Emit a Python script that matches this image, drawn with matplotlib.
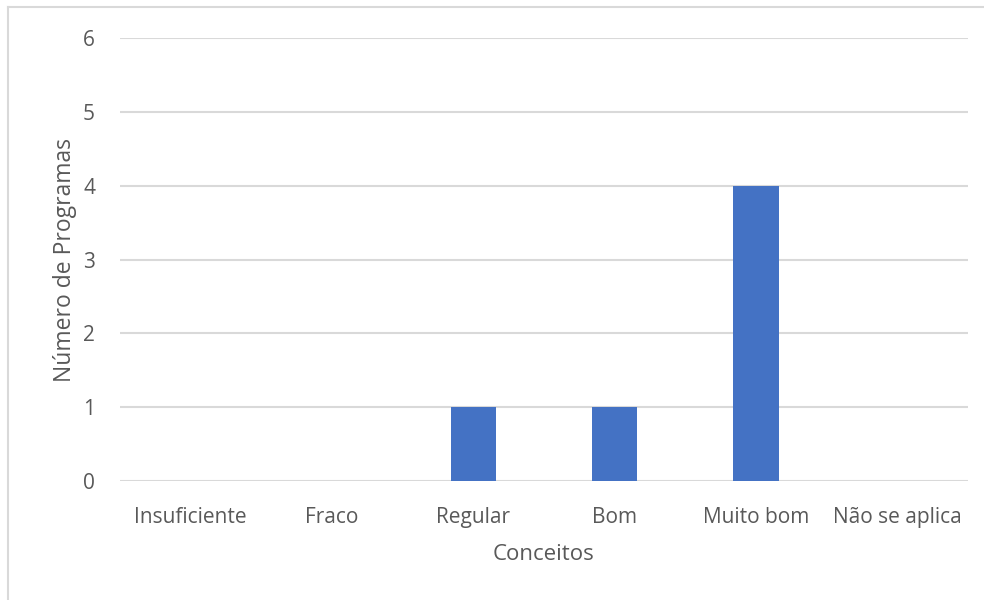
import matplotlib
matplotlib.use("Agg")
import matplotlib.pyplot as plt
from matplotlib.lines import Line2D

categories = ["Insuficiente", "Fraco", "Regular", "Bom", "Muito bom", "Não se aplica"]
values = [0, 0, 1, 1, 4, 0]
yticks = [0, 1, 2, 3, 4, 5, 6]

plt.rcParams['font.family'] = ['Open Sans', 'DejaVu Sans']
txt = '#595959'

fig = plt.figure(figsize=(9.84, 6.0), dpi=100)
ax = fig.add_axes([120/984, 119/600, 848/984, 443/600])

x = list(range(len(categories)))
ax.bar(x, values, width=0.32, color='#4472C4', zorder=3)
ax.set_xlim(-0.5, len(categories) - 0.5)
ax.set_ylim(0, 6)
ax.set_yticks(yticks)
ax.set_xticks(x)
ax.set_xticklabels(categories)
ax.yaxis.grid(True, color='#D9D9D9', linewidth=1.5, zorder=0)
for s in ax.spines.values():
    s.set_visible(False)
ax.tick_params(axis='both', length=0, colors=txt, labelsize=15)
ax.tick_params(axis='y', pad=18)
ax.tick_params(axis='x', pad=19)
ax.set_xlabel("Conceitos", color=txt, fontsize=16, labelpad=11)
ax.set_ylabel("Número de Programas", color=txt, fontsize=16.5, labelpad=4)

fig.add_artist(Line2D([8/984, 8/984], [0, 1 - 7/600], transform=fig.transFigure, color='#D9D9D9', linewidth=1.5))
fig.add_artist(Line2D([8/984, 1], [1 - 7/600, 1 - 7/600], transform=fig.transFigure, color='#D9D9D9', linewidth=1.5))

fig.savefig("out.png", dpi=100)
